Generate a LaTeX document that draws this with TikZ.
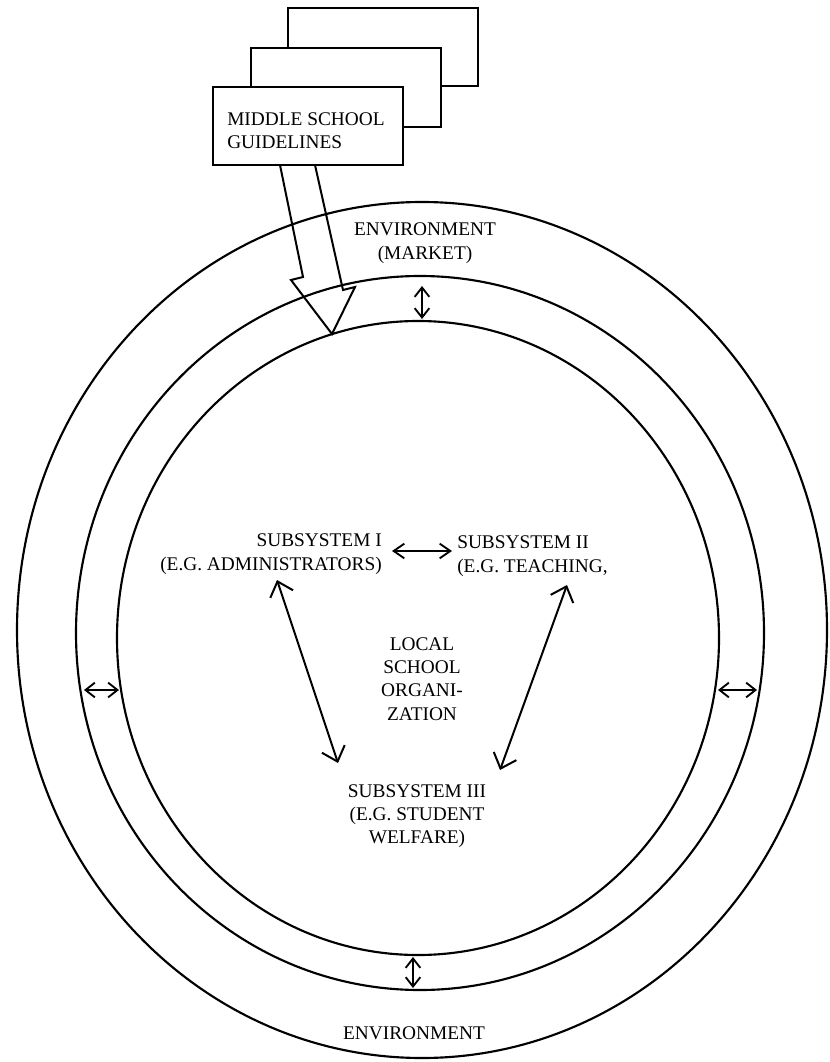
\documentclass[tikz,border=0pt]{standalone}
\usepackage{fontspec}
\setmainfont{Liberation Serif}
\usetikzlibrary{arrows.meta}
\begin{document}
\begin{tikzpicture}[x=0.75pt,y=-0.75pt,
  ring/.style={line width=1.6pt},
  gbox/.style={draw, line width=1.5pt, fill=white, minimum width=142.5pt, minimum height=59pt, inner sep=0pt},
  lbl/.style={font=\fontsize{14.5}{17.5}\selectfont, inner sep=0pt},
  longarr/.style={line width=1.5pt, {Straight Barb[length=10pt,width=18pt]}-{Straight Barb[length=10pt,width=18pt]}},
  midarr/.style={line width=1.4pt, {Straight Barb[length=8pt,width=11pt]}-{Straight Barb[length=8pt,width=11pt]}},
  shortarr/.style={line width=1.4pt, {Straight Barb[length=7pt,width=11pt]}-{Straight Barb[length=7pt,width=11pt]}},
]
\useasboundingbox (0,0) rectangle (830,1062);

% rings
\draw[ring] (422,630) ellipse [x radius=405, y radius=428];
\draw[ring] (420,633) ellipse [x radius=344, y radius=357];
\draw[ring] (418,638) ellipse [x radius=301, y radius=317];

% stacked guideline boxes
\node[gbox] (back) at (383,47) {};
\node[gbox] (mid) at (346,87.5) {};
\node[gbox] (front) at (308,126) {};
\node[lbl, align=left, anchor=west] (guide) at (227,131) {MIDDLE SCHOOL\\GUIDELINES};

% block arrow from guidelines into the organization
\coordinate (s1) at (280,165);
\coordinate (s2) at (303,277);
\coordinate (s3) at (291,280);
\coordinate (tip) at (332,334);
\coordinate (s5) at (355,287);
\coordinate (s6) at (343,290);
\coordinate (s7) at (315,165);
\draw[line width=1.5pt, line join=miter] (s1) -- (s2) -- (s3) -- (tip) -- (s5) -- (s6) -- (s7);

% labels
\node[lbl, align=center] (envtop) at (425,243) {ENVIRONMENT\\(MARKET)};
\node[lbl] (envbot) at (414,1033) {ENVIRONMENT};
\node[lbl, align=right, anchor=east] (sub1) at (382,554) {SUBSYSTEM I\\(E.G. ADMINISTRATORS)};
\node[lbl, align=left, anchor=west] (sub2) at (457,556) {SUBSYSTEM II\\(E.G. TEACHING,};
\node[lbl, align=center] (sub3) at (417,816) {SUBSYSTEM III\\(E.G. STUDENT\\WELFARE)};
\node[lbl, align=center] (local) at (422,679) {LOCAL\\SCHOOL\\ORGANI-\\ZATION};

% ring exchange arrows
\coordinate (tA) at (422,286); \coordinate (tB) at (422,319);
\coordinate (bA) at (413,957); \coordinate (bB) at (413,988);
\coordinate (lA) at (84,690);  \coordinate (lB) at (119,690);
\coordinate (rA) at (718,690); \coordinate (rB) at (757,690);
\draw[shortarr] (tA) -- (tB);
\draw[shortarr] (bA) -- (bB);
\draw[shortarr] (lA) -- (lB);
\draw[shortarr] (rA) -- (rB);

% subsystem arrows
\coordinate (a1) at (277,580); \coordinate (a3) at (338,763);
\coordinate (b2) at (567,585); \coordinate (b3) at (500,770);
\coordinate (c1) at (392,551); \coordinate (c2) at (452,551);
\draw[longarr] (a1) -- (a3);
\draw[longarr] (b2) -- (b3);
\draw[midarr] (c1) -- (c2);
\end{tikzpicture}
\end{document}
